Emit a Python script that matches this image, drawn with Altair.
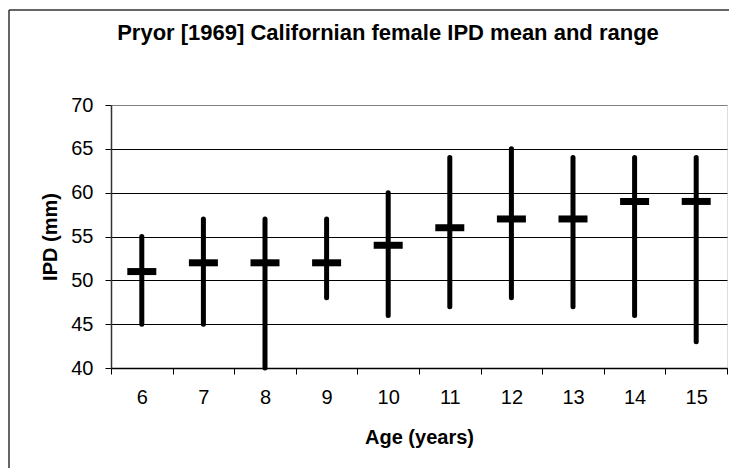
import altair as alt
import pandas as pd

ages = [6, 7, 8, 9, 10, 11, 12, 13, 14, 15]
means = [51, 52, 52, 52, 54, 56, 57, 57, 59, 59]
mins = [45, 45, 40, 48, 46, 47, 48, 47, 46, 43]
maxs = [55, 57, 57, 57, 60, 64, 65, 64, 64, 64]
y_ticks = [40, 45, 50, 55, 60, 65, 70]

df = pd.DataFrame({"age": ages, "mean": means, "lo": mins, "hi": maxs})

FONT = "Liberation Sans, Arial, Helvetica, sans-serif"

x_enc = alt.X(
    "age:O",
    scale=alt.Scale(paddingInner=0, paddingOuter=0),
    axis=alt.Axis(
        title="Age (years)", labelAngle=0, tickBand="extent", ticks=True,
        tickSize=6, tickColor="black", tickWidth=1, domainColor="black",
        domainWidth=1.5, labelFontSize=20, labelPadding=13, labelColor="black",
        titleFontSize=20, titleFontWeight="bold", titlePadding=20,
        titleColor="black", grid=False, labelFont=FONT, titleFont=FONT,
    ),
)

y_axis = alt.Axis(
    title="IPD (mm)", values=y_ticks, tickSize=6, tickColor="black",
    tickWidth=1, domainColor="#333333", domainWidth=1.5,
    labelFontSize=20, labelPadding=12, labelColor="black",
    titleFontSize=20, titleFontWeight="bold", titlePadding=10,
    titleColor="black", grid=True,
    gridColor={"condition": {"test": "datum.value == 70", "value": "#808080"},
               "value": "black"},
    gridWidth=1, labelFont=FONT, titleFont=FONT,
)

ranges = alt.Chart(df).mark_rule(
    strokeWidth=5, strokeCap="round", color="black"
).encode(
    x=x_enc,
    y=alt.Y("lo:Q", scale=alt.Scale(domain=[40, 70], nice=False, zero=False), axis=y_axis),
    y2="hi:Q",
)

mean_marks = alt.Chart(df).mark_tick(
    thickness=7, size=29, color="black", opacity=1
).encode(
    x=alt.X("age:O"),
    y=alt.Y("mean:Q"),
)

one = alt.Data(values=[{"k": 1}])
frame_left = alt.Chart(one).mark_rule(color="#333333", strokeWidth=1.5).encode(
    x=alt.value(-102), y=alt.value(-95), y2=alt.value(600)
)
frame_top = alt.Chart(one).mark_rule(color="#333333", strokeWidth=1.5).encode(
    x=alt.value(-102), x2=alt.value(900), y=alt.value(-95)
)

chart = alt.layer(frame_left, frame_top, ranges, mean_marks).properties(
    width=616,
    height=263,
    title=alt.TitleParams(
        "Pryor [1969] Californian female IPD mean and range",
        font=FONT, fontSize=22, fontWeight="bold", color="black",
        anchor="middle", frame="group", dx=-31, offset=-36,
    ),
    autosize=alt.AutoSizeParams(type="none"),
    padding={"left": 103, "top": 97, "right": 2, "bottom": 100},
).configure_view(
    stroke="#808080", strokeWidth=2
).configure(background="white")

chart.save("out.html", embed_options={"renderer": "svg", "actions": False})
